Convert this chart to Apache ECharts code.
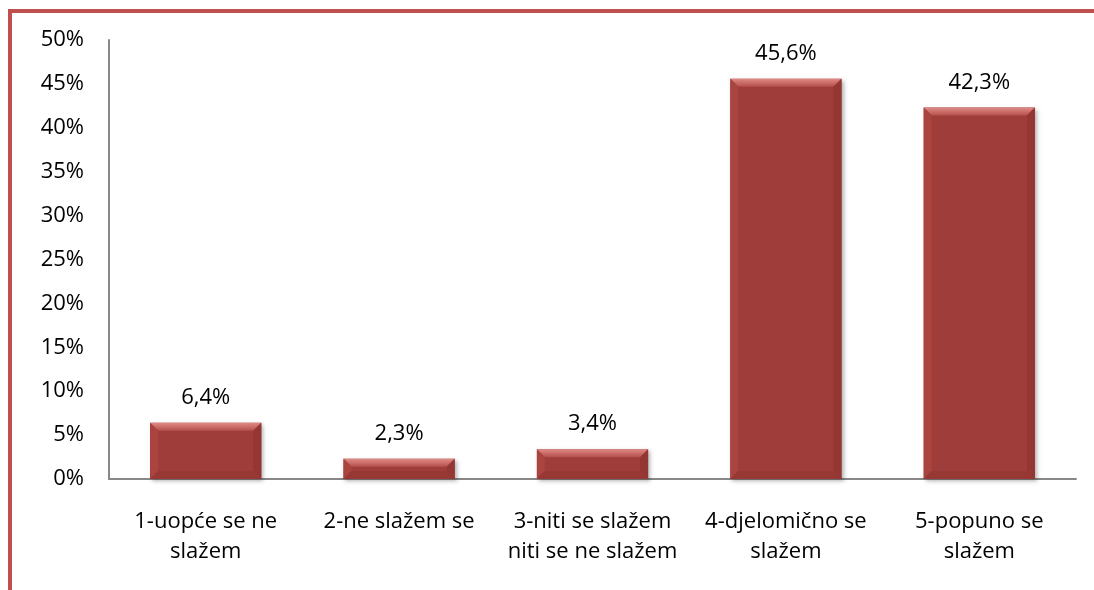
<!doctype html>
<html lang="hr">
<head>
    <meta charset="utf-8">
    <title>Slaganje</title>
    <script src="https://cdn.jsdelivr.net/npm/echarts@6.0.0/dist/echarts.min.js"></script>
    <style>
        html, body { margin: 0; background: #fff; overflow: hidden; }
        #frame { position: absolute; left: 8px; top: 9px; width: 1086px; height: 581px;
                 border-left: 4px solid #c0504d; border-top: 4px solid #c0504d; box-sizing: border-box; }
        #main { position: absolute; left: 0; top: 0; width: 1094px; height: 590px; }
    </style>
</head>
<body>
    <div id="frame"></div>
    <div id="main"></div>
    <script type="text/javascript">
        var categories = ['1-uopće se ne\nslažem', '2-ne slažem se', '3-niti se slažem\nniti se ne slažem', '4-djelomično se\nslažem', '5-popuno se\nslažem'];
        var values = [6.4, 2.3, 3.4, 45.6, 42.3];
        var yTicks = [0, 5, 10, 15, 20, 25, 30, 35, 40, 45, 50];

        var FONT = 'Open Sans';
        var chartDom = document.getElementById('main');
        var myChart = echarts.init(chartDom);

        // bevelled bar, drawn from the axis coordinates
        function renderBar(params, api) {
            var v = api.value(1);
            var top = api.coord([api.value(0), v]);
            var base = api.coord([api.value(0), 0]);
            var bw = api.size([1, 0])[0] * 0.575;
            var x0 = top[0] - bw / 2, x1 = top[0] + bw / 2;
            var y0 = top[1], y1 = base[1];
            var h = y1 - y0;
            var b = Math.min(8, h / 2, bw / 2);
            var children = [
                { type: 'rect', shape: { x: x0, y: y0, width: bw, height: h },
                  style: { fill: '#9f3d3a', shadowBlur: 4, shadowOffsetX: 2, shadowOffsetY: 2, shadowColor: 'rgba(0,0,0,0.3)' } },
                { type: 'polygon', shape: { points: [[x0, y0], [x1, y0], [x1 - b, y0 + b], [x0 + b, y0 + b]] },
                  style: { fill: new echarts.graphic.LinearGradient(0, 0, 0, 1, [{ offset: 0, color: '#e08a86' }, { offset: 1, color: '#b5504c' }]) } },
                { type: 'polygon', shape: { points: [[x0, y0], [x0 + b, y0 + b], [x0 + b, y1 - b], [x0, y1]] },
                  style: { fill: '#a9443f' } },
                { type: 'polygon', shape: { points: [[x1, y0], [x1 - b, y0 + b], [x1 - b, y1 - b], [x1, y1]] },
                  style: { fill: '#943734' } },
                { type: 'polygon', shape: { points: [[x0, y1], [x0 + b, y1 - b], [x1 - b, y1 - b], [x1, y1]] },
                  style: { fill: '#973835' } },
                { type: 'text', x: top[0], y: y0 - 14,
                  style: { text: v.toFixed(1).replace('.', ',') + '%', fill: '#000', fontFamily: FONT, fontSize: 22,
                           align: 'center', verticalAlign: 'bottom' } }
            ];
            return { type: 'group', children: children };
        }

        var option = {
            animation: false,
            grid: { left: 109, right: 18, top: 40, bottom: 111 },
            xAxis: {
                type: 'category',
                data: categories,
                axisLine: { lineStyle: { color: '#888', width: 2 } },
                axisTick: { show: false },
                axisLabel: { color: '#000', fontFamily: FONT, fontSize: 22, lineHeight: 30, margin: 28, interval: 0 }
            },
            yAxis: {
                type: 'value',
                min: yTicks[0],
                max: yTicks[yTicks.length - 1],
                interval: 5,
                axisLine: { show: true, lineStyle: { color: '#888', width: 2 } },
                axisTick: { show: false },
                splitLine: { show: false },
                axisLabel: { color: '#000', fontFamily: FONT, fontSize: 22, margin: 25,
                             formatter: function (v) { return v + '%'; } }
            },
            series: [{
                type: 'custom',
                renderItem: renderBar,
                data: values.map(function (v, i) { return [i, v]; })
            }]
        };

        myChart.setOption(option);
    </script>
</body>
</html>
